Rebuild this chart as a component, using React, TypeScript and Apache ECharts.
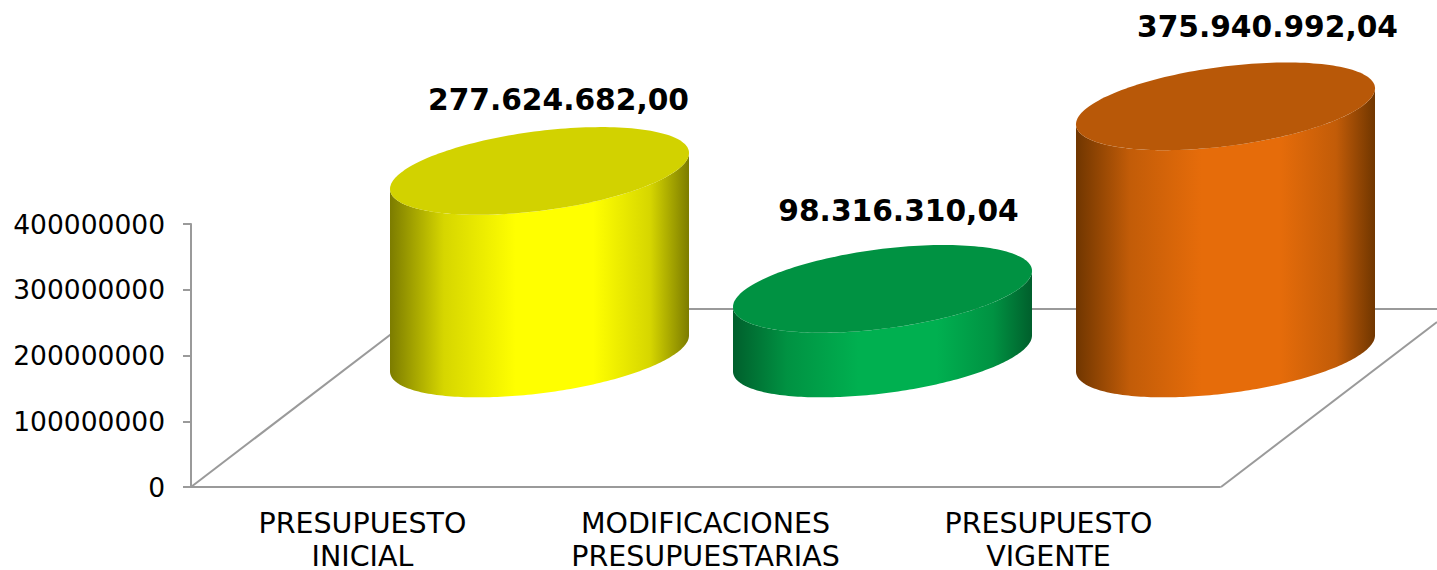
import React, { useEffect, useRef } from "react";
import * as echarts from "echarts";

const categories = ["PRESUPUESTO\nINICIAL", "MODIFICACIONES\nPRESUPUESTARIAS", "PRESUPUESTO\nVIGENTE"];
const values = [277624682.0, 98316310.04, 375940992.04];
const valueLabels = ["277.624.682,00", "98.316.310,04", "375.940.992,04"];
const sideColors = ["#ffff00", "#00b050", "#e66c0a"];
const sideEdgeColors = ["#7c7c00", "#005f2c", "#703600"];
const sideMidColors = ["#d6d600", "#009242", "#c25c08"];
const topColors = ["#d2d200", "#009242", "#b85808"];

// projection of the 3D floor and the cylinder's ellipse, in pixels
const DEPTH_X = 177;
const DEPTH_Y = 133.5;
const RX = 149.5;
const RY = 40;
const SHEAR = 18;
const LABEL_DX = [19, 16, 42];
const LABEL_DY = [-71, -78, -80];

const FONT = "'DejaVu Sans', Verdana, sans-serif";
const LINE = "#9a9a9a";

function arc(cx: number, cy: number, from: number, to: number, n = 120) {
  const pts: number[][] = [];
  for (let i = 0; i <= n; i++) {
    const t = from + ((to - from) * i) / n;
    pts.push([cx + RX * Math.cos(t), cy - SHEAR * Math.cos(t) + RY * Math.sin(t)]);
  }
  return pts;
}

export default function App() {
  const ref = useRef<HTMLDivElement>(null);
  useEffect(() => {
    document.body.style.margin = "0";
    const chart = echarts.init(ref.current!, undefined, { renderer: "svg" });
    chart.setOption({
      animation: false,
      backgroundColor: "#ffffff",
      grid: { left: 191, right: 217, top: 224, bottom: 83, containLabel: false, outerBoundsMode: "none" },
      xAxis: {
        type: "category",
        data: categories,
        axisLine: { lineStyle: { color: LINE, width: 2 } },
        axisTick: { show: false },
        axisLabel: { fontFamily: FONT, fontSize: 28.5, color: "#000", lineHeight: 33, margin: 20, interval: 0 },
      },
      yAxis: {
        type: "value",
        min: 0,
        max: 400000000,
        interval: 100000000,
        splitLine: { show: false },
        axisLine: { show: true, lineStyle: { color: LINE, width: 2 } },
        axisTick: { show: true, length: 8, lineStyle: { color: LINE, width: 2 } },
        axisLabel: { fontFamily: FONT, fontSize: 26.5, color: "#000", margin: 26, formatter: (v: number) => String(v) },
      },
      graphic: [
        { type: "line", z: 1, shape: { x1: 191, y1: 487, x2: 424, y2: 309 }, style: { stroke: LINE, lineWidth: 2 } },
        { type: "line", z: 1, shape: { x1: 424, y1: 309, x2: 1437, y2: 309 }, style: { stroke: LINE, lineWidth: 2 } },
        { type: "line", z: 1, shape: { x1: 1221, y1: 487, x2: 1437, y2: 322 }, style: { stroke: LINE, lineWidth: 2 } },
      ],
      series: [
        {
          type: "custom",
          z: 5,
          clip: false,
          encode: { x: 0, y: 1 },
          data: values.map((v, i) => [i, v]),
          renderItem: (params: any, api: any) => {
            const i = params.dataIndex;
            const [bx, by] = api.coord([api.value(0), 0]);
            const [, ty] = api.coord([api.value(0), api.value(1)]);
            const cx = bx + DEPTH_X;
            const baseY = by - DEPTH_Y;
            const topY = ty - DEPTH_Y;
            const side = [...arc(cx, baseY, Math.PI, 0), ...arc(cx, topY, 0, Math.PI)];
            const gradient = new echarts.graphic.LinearGradient(0, 0, 1, 0, [
              { offset: 0, color: sideEdgeColors[i] },
              { offset: 0.18, color: sideMidColors[i] },
              { offset: 0.42, color: sideColors[i] },
              { offset: 0.68, color: sideColors[i] },
              { offset: 0.87, color: sideMidColors[i] },
              { offset: 1, color: sideEdgeColors[i] },
            ]);
            return {
              type: "group",
              children: [
                { type: "polygon", shape: { points: side }, style: { fill: gradient } },
                { type: "polygon", shape: { points: arc(cx, topY, 0, Math.PI * 2, 180) }, style: { fill: topColors[i] } },
                {
                  type: "text",
                  x: cx + LABEL_DX[i],
                  y: topY + LABEL_DY[i],
                  style: {
                    text: valueLabels[i],
                    fontFamily: FONT,
                    fontWeight: "bold",
                    fontSize: 29.7,
                    fill: "#000",
                    align: "center",
                    verticalAlign: "middle",
                  },
                },
              ],
            };
          },
        },
      ],
    });
    return () => chart.dispose();
  }, []);
  return <div ref={ref} style={{ width: 1437, height: 570 }} />;
}
